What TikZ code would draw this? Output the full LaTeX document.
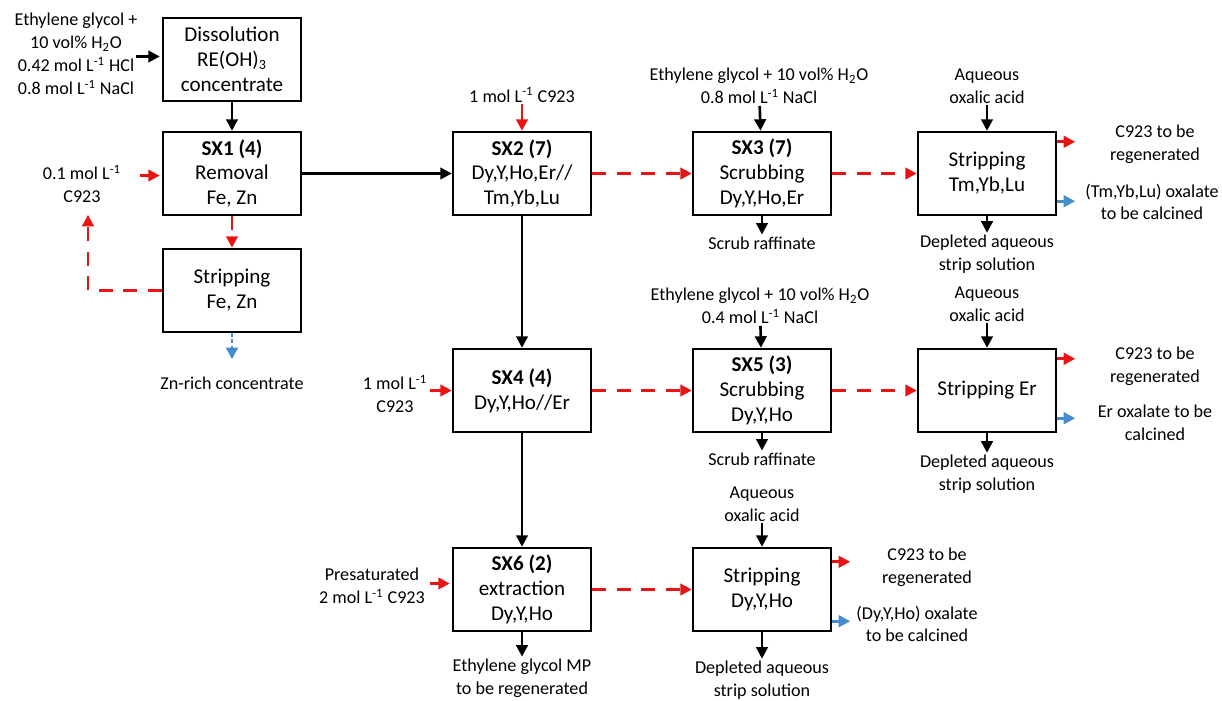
\documentclass[tikz,border=0pt]{standalone}
\usepackage{fontspec}
\setmainfont{Carlito}
\usetikzlibrary{arrows.meta,calc}
\definecolor{sxred}{RGB}{235,20,20}
\definecolor{sxblue}{RGB}{70,140,205}
\newcommand{\molL}{mol L\textsuperscript{-1}}
\begin{document}
\begin{tikzpicture}[x=0.02cm,y=-0.02cm,
	>={Triangle[length=2.3mm,width=2.3mm]},
	unit/.style={draw,line width=1.4pt,minimum width=2.76cm,minimum height=1.66cm,
		align=center,font=\fontsize{12}{14.2}\selectfont},
	lab/.style={align=center,font=\fontsize{10.3}{13}\selectfont,inner sep=1pt},
	blk/.style={->,line width=1.5pt},
	org/.style={->,line width=1.5pt,sxred},
	orgd/.style={org,dash pattern=on 8pt off 6pt},
	prod/.style={->,line width=1.5pt,sxblue}]
	
	\useasboundingbox (0,0) rectangle (1222,700);
	
	%unita
	\node[unit] (diss) at (232,59.5) {Dissolution\\RE(OH)\textsubscript{3}\\concentrate};
	\node[unit] (sx1) at (232,173.5) {\textbf{SX1 (4)}\\Removal\\Fe, Zn};
	\node[unit] (strFe) at (232,290.5) {Stripping\\Fe, Zn};
	\node[unit] (sx2) at (522,173.5) {\textbf{SX2 (7)}\\Dy,Y,Ho,Er//\\Tm,Yb,Lu};
	\node[unit] (sx3) at (762,173.5) {\textbf{SX3 (7)}\\Scrubbing\\Dy,Y,Ho,Er};
	\node[unit] (strTm) at (987,173.5) {Stripping\\Tm,Yb,Lu};
	\node[unit] (sx4) at (522,390.5) {\textbf{SX4 (4)}\\Dy,Y,Ho//Er};
	\node[unit] (sx5) at (762,390.5) {\textbf{SX5 (3)}\\Scrubbing\\Dy,Y,Ho};
	\node[unit] (strEr) at (987,390.5) {Stripping Er};
	\node[unit] (sx6) at (522,589.5) {\textbf{SX6 (2)}\\extraction\\Dy,Y,Ho};
	\node[unit] (strDy) at (762,589.5) {Stripping\\Dy,Y,Ho};
	
	%correnti
	\node[lab] (feed) at (76,54) {Ethylene glycol +\\10 vol\% H\textsubscript{2}O\\0.42 \molL{} HCl\\0.8 \molL{} NaCl};
	\node[lab] (lab01) at (82,184) {0.1 \molL\\C923};
	\node[lab] (znrich) at (232,383) {Zn-rich concentrate};
	\node[lab] (lab02) at (522,95) {1 \molL{} C923};
	\node[lab] (wash3) at (759,86) {Ethylene glycol + 10 vol\% H\textsubscript{2}O\\0.8 \molL{} NaCl};
	\node[lab] (raf3) at (762,243) {Scrub raffinate};
	\node[lab] (oxa1) at (987,86) {Aqueous\\oxalic acid};
	\node[lab] (regen1) at (1155,144) {C923 to be\\regenerated};
	\node[lab] (calc1) at (1152,202) {(Tm,Yb,Lu) oxalate\\to be calcined};
	\node[lab] (depl1) at (987,254) {Depleted aqueous\\strip solution};
	\node[lab] (wash5) at (760,306) {Ethylene glycol + 10 vol\% H\textsubscript{2}O\\0.4 \molL{} NaCl};
	\node[lab] (lab04) at (395,394) {1 \molL\\C923};
	\node[lab] (raf5) at (762,459) {Scrub raffinate};
	\node[lab] (oxa2) at (987,304) {Aqueous\\oxalic acid};
	\node[lab] (regen2) at (1155,366) {C923 to be\\regenerated};
	\node[lab] (calc2) at (1155,423) {Er oxalate to be\\calcined};
	\node[lab] (depl2) at (987,474) {Depleted aqueous\\strip solution};
	\node[lab] (lab06) at (372,586) {Presaturated\\2 \molL{} C923};
	\node[lab] (oxa3) at (762,504) {Aqueous\\oxalic acid};
	\node[lab] (regen3) at (927,567) {C923 to be\\regenerated};
	\node[lab] (calc3) at (917,624) {(Dy,Y,Ho) oxalate\\to be calcined};
	\node[lab] (glyc) at (522,678) {Ethylene glycol MP\\to be regenerated};
	\node[lab] (depl3) at (762,680) {Depleted aqueous\\strip solution};
	
	%linea principale
	\draw[blk] ($(diss.west)+(-26,-3)$) -- ++(24,0);
	\draw[blk] (diss) -- (sx1);
	\draw[blk] (sx1) -- (sx2);
	\draw[blk] (sx2) -- (sx4);
	\draw[blk] (sx4) -- (sx6);
	
	\draw[org] ($(sx1.west)+(-22,2)$) -- ++(20,0);
	\draw[orgd] (sx1) -- (strFe);
	\draw[orgd] (strFe.west) -| ($(lab01.south)+(6,10)$);
	\draw[prod,dash pattern=on 2pt off 1.5pt] (strFe.south) -- ++(0,26);
	
	\draw[org] (lab02) -- (sx2);
	\draw[orgd] (sx2) -- (sx3);
	\draw[orgd] (sx3) -- (strTm);
	\draw[blk] (wash3) -- (sx3);
	\draw[blk] (sx3) -- (raf3);
	\draw[blk] (oxa1) -- (strTm);
	\draw[blk] (strTm) -- (depl1);
	\draw[org] ($(strTm.north east)+(0,11)$) -- ++(18,0);
	\draw[prod] ($(strTm.south east)+(0,-15)$) -- ++(18,0);
	
	\draw[org] ($(sx4.west)+(-22,0)$) -- (sx4.west);
	\draw[orgd] (sx4) -- (sx5);
	\draw[orgd] (sx5) -- (strEr);
	\draw[blk] (wash5) -- (sx5);
	\draw[blk] (sx5) -- (raf5);
	\draw[blk] (oxa2) -- (strEr);
	\draw[blk] (strEr) -- (depl2);
	\draw[org] ($(strEr.north east)+(0,11)$) -- ++(18,0);
	\draw[prod] ($(strEr.south east)+(0,-15)$) -- ++(18,0);
	
	\draw[org] ($(sx6.west)+(-22,-6)$) -- ++(20,0);
	\draw[orgd] (sx6) -- (strDy);
	\draw[blk] (oxa3) -- (strDy);
	\draw[blk] (sx6) -- (glyc);
	\draw[blk] (strDy) -- (depl3);
	\draw[org] ($(strDy.north east)+(0,15)$) -- ++(18,0);
	\draw[prod] ($(strDy.south east)+(0,-11)$) -- ++(18,0);
\end{tikzpicture}
\end{document}
